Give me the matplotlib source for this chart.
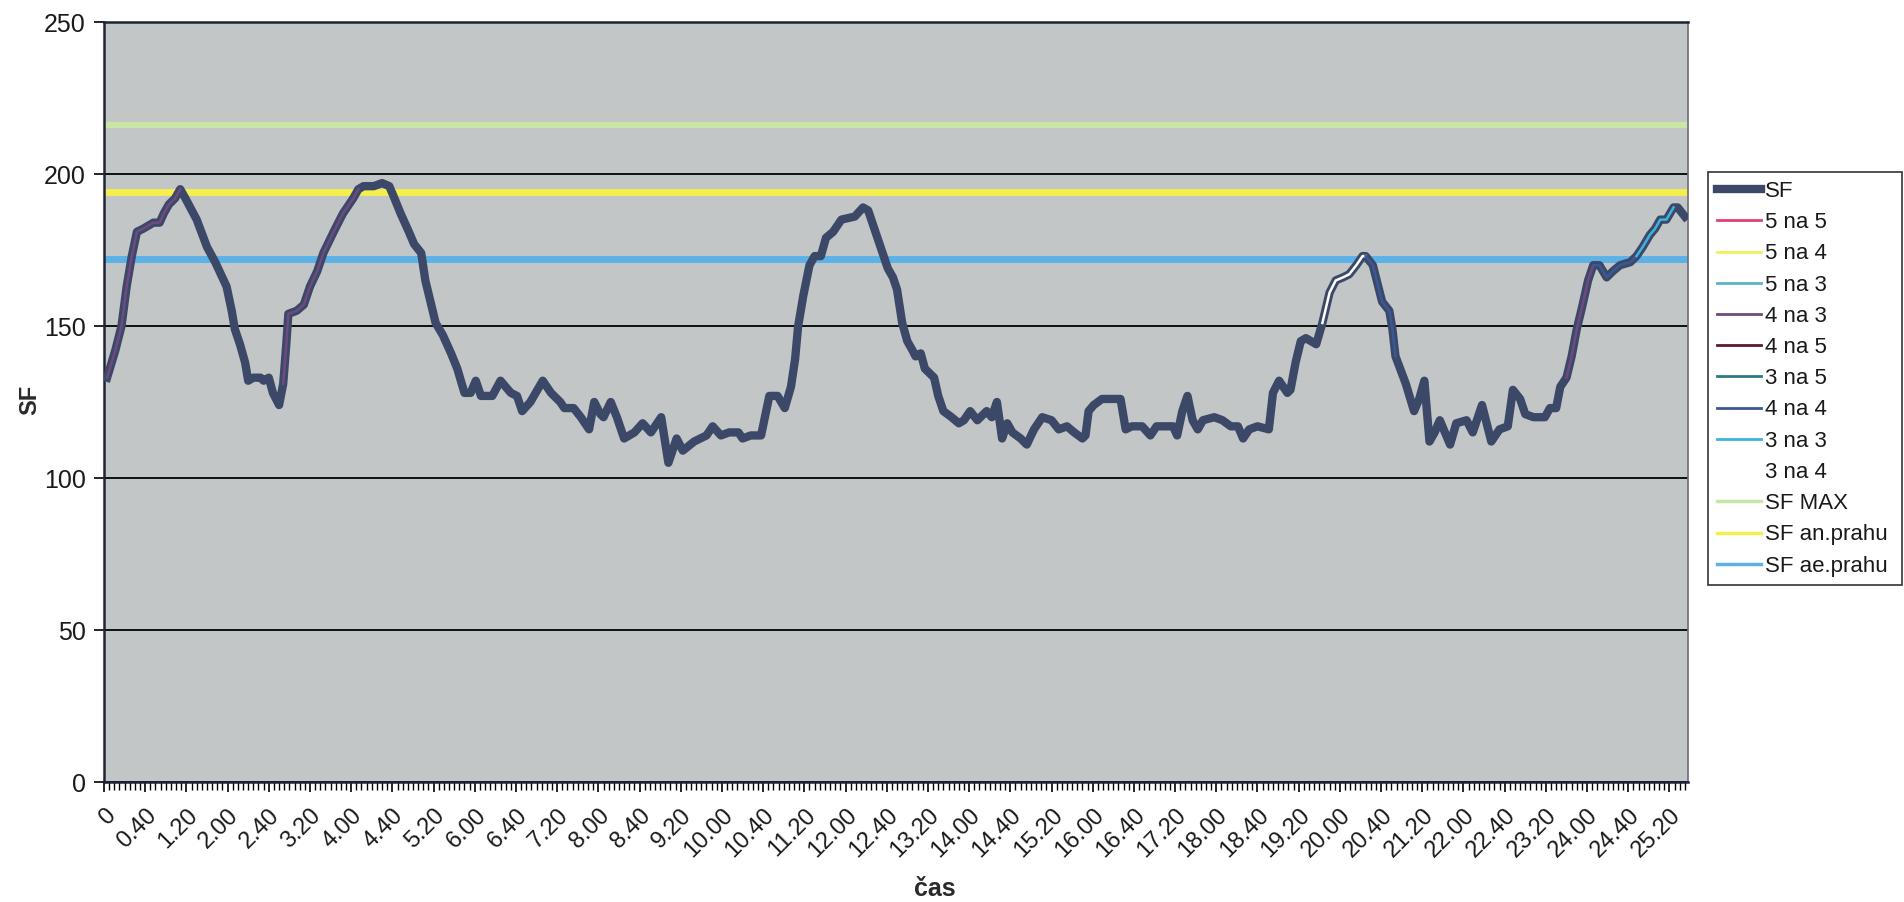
import numpy as np
import matplotlib
matplotlib.use("Agg")
import matplotlib.pyplot as plt
from matplotlib.lines import Line2D

plt.rcParams["font.family"] = ["Liberation Sans", "DejaVu Sans"]

# time in seconds from start, heart rate (SF)
T_SEC = [
    3, 11, 17, 22, 27, 32, 38, 48, 54, 58, 63, 69, 74, 79, 90, 100, 108, 119, 124, 127,
    132, 137, 140, 145, 152, 155, 160, 164, 170, 174, 177, 179, 187, 194, 200, 207, 213, 223, 232, 242,
    247, 252, 262, 270, 277, 282, 288, 296, 301, 308, 312, 317, 322, 329, 337, 343, 350, 356, 361, 366,
    377, 385, 395, 401, 406, 414, 426, 434, 443, 447, 456, 463, 471, 476, 482, 485, 492, 498, 505, 510,
    515, 523, 531, 541, 548, 556, 562, 573, 585, 591, 599, 607, 616, 620, 628, 638, 646, 654, 661, 667,
    671, 674, 679, 685, 690, 696, 701, 708, 716, 729, 737, 742, 748, 756, 761, 766, 770, 775, 780, 785,
    788, 793, 797, 806, 810, 815, 823, 830, 835, 841, 848, 857, 862, 867, 872, 877, 882, 890, 896, 903,
    911, 920, 927, 935, 942, 950, 953, 956, 961, 969, 979, 987, 992, 998, 1008, 1016, 1022, 1038, 1042, 1047,
    1052, 1057, 1062, 1067, 1078, 1086, 1094, 1101, 1106, 1112, 1120, 1131, 1135, 1141, 1149, 1152, 1157, 1162, 1167, 1177,
    1183, 1190, 1196, 1203, 1209, 1216, 1222, 1225, 1232, 1241, 1248, 1251, 1254, 1264, 1272, 1277, 1282, 1287, 1292, 1297,
    1307, 1313, 1323, 1329, 1338, 1347, 1355, 1363, 1368, 1375, 1380, 1388, 1399, 1404, 1410, 1414, 1420, 1425, 1430, 1435,
    1441, 1446, 1452, 1459, 1465, 1472, 1482, 1488, 1494, 1501, 1506, 1511, 1517, 1524, 1528, 1535,
]
SF = [
    133, 142, 150, 163, 173, 181, 182, 184, 184, 187, 190, 192, 195, 192, 185, 176, 171, 163, 155, 149,
    144, 138, 132, 133, 133, 132, 133, 128, 124, 131, 144, 154, 155, 157, 163, 168, 174, 181, 187, 192,
    195, 196, 196, 197, 196, 192, 187, 181, 177, 174, 165, 158, 151, 147, 141, 136, 128, 128, 132, 127,
    127, 132, 128, 127, 122, 125, 132, 128, 125, 123, 123, 120, 116, 125, 121, 120, 125, 120, 113, 114,
    115, 118, 115, 120, 105, 113, 109, 112, 114, 117, 114, 115, 115, 113, 114, 114, 127, 127, 123, 130,
    139, 150, 160, 170, 173, 173, 179, 181, 185, 186, 189, 188, 182, 174, 169, 166, 162, 151, 145, 142,
    140, 141, 136, 133, 127, 122, 120, 118, 119, 122, 119, 122, 120, 125, 113, 118, 115, 113, 111, 116,
    120, 119, 116, 117, 115, 113, 114, 122, 124, 126, 126, 126, 116, 117, 117, 114, 117, 117, 114, 122,
    127, 119, 116, 119, 120, 119, 117, 117, 113, 116, 117, 116, 128, 132, 128, 129, 138, 145, 146, 144,
    151, 161, 165, 166, 167, 170, 173, 173, 170, 158, 155, 149, 140, 131, 122, 126, 132, 112, 115, 119,
    111, 118, 119, 115, 124, 112, 116, 117, 129, 126, 121, 120, 120, 123, 123, 130, 133, 140, 149, 156,
    165, 170, 170, 166, 168, 170, 171, 173, 176, 180, 182, 185, 185, 189, 189, 186,
]

SF_MAX = 216
SF_AN_PRAHU = 194
SF_AE_PRAHU = 172

# zone series: (name, start s, end s) where they overlay the SF curve
ZONE_SEGMENTS = [
    ("4 na 3", 0, 74),
    ("4 na 3", 174, 247),
    ("3 na 4", 1183, 1225),
    ("4 na 4", 1225, 1254),
    ("4 na 3", 1420, 1446),
    ("4 na 4", 1446, 1488),
    ("3 na 3", 1488, 1524),
]

ZONE_NAMES = ["5 na 5", "5 na 4", "5 na 3", "4 na 3", "4 na 5", "3 na 5", "4 na 4", "3 na 3", "3 na 4"]
ZONE_COLORS = ["#e0407a", "#f2f05a", "#5ab4c8", "#6e4a80", "#5a1a2a", "#2a7a8a", "#3a5896", "#3cb4e0", "#ffffff"]

TICK_SEC = list(range(0, 1521, 40))
TICK_LABELS = [
    "0", "0.40", "1.20", "2.00", "2.40", "3.20", "4.00", "4.40", "5.20", "6.00",
    "6.40", "7.20", "8.00", "8.40", "9.20", "10.00", "10.40", "11.20", "12.00", "12.40",
    "13.20", "14.00", "14.40", "15.20", "16.00", "16.40", "17.20", "18.00", "18.40", "19.20",
    "20.00", "20.40", "21.20", "22.00", "22.40", "23.20", "24.00", "24.40", "25.20",
]

SF_COLOR = "#3c4868"
MAX_COLOR = "#c9e6a6"
AN_COLOR = "#f4ee4e"
AE_COLOR = "#5cb2e6"

fig = plt.figure(figsize=(19.04, 9.02), dpi=100)
ax = fig.add_axes([104 / 1904, 1 - 782 / 902, (1688 - 104) / 1904, (782 - 22) / 902])
ax.set_facecolor("#c3c6c6")

t = np.array(T_SEC)
sf = np.array(SF)

ax.axhline(SF_MAX, color=MAX_COLOR, lw=4.5, zorder=2)
ax.axhline(SF_AN_PRAHU, color=AN_COLOR, lw=5, zorder=2)
ax.axhline(SF_AE_PRAHU, color=AE_COLOR, lw=5, zorder=2)

ax.plot(t, sf, color=SF_COLOR, lw=6, solid_joinstyle="round", zorder=3)

zone_color = dict(zip(ZONE_NAMES, ZONE_COLORS))
for name, a, b in ZONE_SEGMENTS:
    m = (t >= a) & (t <= b)
    ax.plot(t[m], sf[m], color=zone_color[name], lw=1.8, zorder=4)

ax.set_xlim(0, 1538)
ax.set_ylim(0, 250)
ax.set_yticks(range(0, 251, 50))
ax.yaxis.grid(True, color="black", lw=1.3)
ax.set_axisbelow(True)

ax.set_xticks(TICK_SEC)
ax.set_xticklabels(TICK_LABELS, rotation=45, ha="right", va="top", rotation_mode="anchor")
ax.set_xticks(np.arange(0, 1538, 5), minor=True)
ax.tick_params(axis="x", which="major", direction="out", length=7, width=1.2, labelsize=17, pad=9,
               labelcolor="#1a1a1a")
ax.tick_params(axis="x", which="minor", direction="out", length=6, width=1)
ax.tick_params(axis="y", direction="out", length=7, width=1.2, labelsize=18, pad=6, labelcolor="#1a1a1a")

for side in ["left", "bottom", "top"]:
    ax.spines[side].set_color("#1e2435")
    ax.spines[side].set_linewidth(1.8)
ax.spines["right"].set_color("#6a6e76")
ax.spines["right"].set_linewidth(1.2)

fig.text(30 / 1904, 1 - 400 / 902, "SF", rotation=90, ha="center", va="center",
         fontsize=17, fontweight="bold", color="#2a2a2a")
fig.text(935 / 1904, 1 - 889 / 902, "čas", ha="center", va="center",
         fontsize=18, fontweight="bold", color="#2a2a2a")

handles = [Line2D([], [], color=SF_COLOR, lw=6)]
labels = ["SF"]
for name, col in zip(ZONE_NAMES, ZONE_COLORS):
    handles.append(Line2D([], [], color=col, lw=2))
    labels.append(name)
for name, col in [("SF MAX", MAX_COLOR), ("SF an.prahu", AN_COLOR), ("SF ae.prahu", AE_COLOR)]:
    handles.append(Line2D([], [], color=col, lw=2.5))
    labels.append(name)

leg = fig.legend(handles, labels, loc="upper left",
                 bbox_to_anchor=(1708 / 1904, 1 - 172 / 902, (1902 - 1708) / 1904, 0.0),
                 mode="expand", fontsize=16, frameon=True, fancybox=False,
                 edgecolor="black", handlelength=2.0, handletextpad=0.15,
                 labelspacing=0.46, borderpad=0.4, borderaxespad=0)
leg.get_frame().set_linewidth(1.2)
for txt in leg.get_texts():
    txt.set_color("#1a1a1a")

fig.savefig("out.png", dpi=100, facecolor="white")
